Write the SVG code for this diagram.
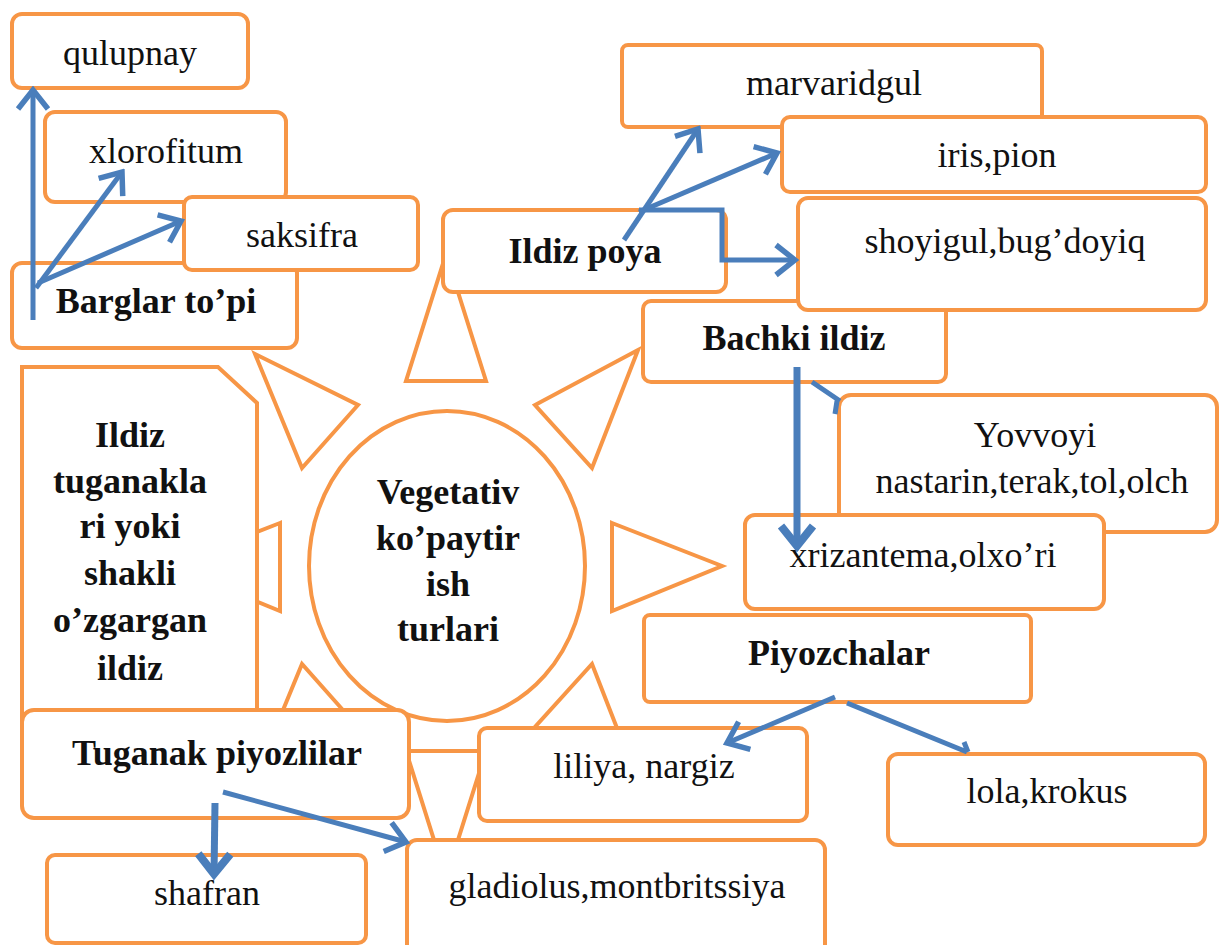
<svg xmlns="http://www.w3.org/2000/svg" width="1219" height="945" viewBox="0 0 1219 945">
<defs>
<style>
.box{fill:#fff;stroke:#F79646;stroke-width:4}
.ray{fill:#fff;stroke:#F79646;stroke-width:4;stroke-linejoin:miter}
.t{font-family:"Liberation Serif","Times New Roman",serif;font-size:36px;fill:#111;text-anchor:middle}
.b{font-weight:bold}
.c{fill:none;stroke:#4A7EBB;stroke-width:5}
.ct{fill:none;stroke:#4A7EBB;stroke-width:7}
</style>
<marker id="ah" viewBox="-26 -20 30 40" markerWidth="30" markerHeight="40" refX="0" refY="0" orient="auto" markerUnits="userSpaceOnUse">
<path d="M-19,-15 L0,0 L-19,15" fill="none" stroke="#4A7EBB" stroke-width="5.5"/>
</marker>
<marker id="aht" viewBox="-28 -22 34 44" markerWidth="34" markerHeight="44" refX="0" refY="0" orient="auto" markerUnits="userSpaceOnUse">
<path d="M-20,-16 L0,0 L-20,16" fill="none" stroke="#4A7EBB" stroke-width="8"/>
</marker>
</defs>
<rect width="1219" height="945" fill="#fff"/>

<g id="rays">
<polygon class="ray" points="446,254 486,381 406,381"/>
<polygon class="ray" points="255,354 358,405 302,468"/>
<polygon class="ray" points="638,350 535,405 592,468"/>
<polygon class="ray" points="612,523 722,566 612,611"/>
<polygon class="ray" points="280,523 170,566 280,611"/>
<polygon class="ray" points="255,778 358,727 302,664"/>
<polygon class="ray" points="638,782 535,727 592,664"/>
<polygon class="ray" points="406,751 486,751 446,878"/>
</g>

<g id="center">
<ellipse class="box" cx="447" cy="566" rx="138" ry="155"/>
<text class="t b" x="448" y="504">Vegetativ</text>
<text class="t b" x="448" y="550">ko’paytir</text>
<text class="t b" x="448" y="596">ish</text>
<text class="t b" x="448" y="641">turlari</text>
</g>

<g id="qulupnay"><rect class="box" x="12" y="14" width="236" height="74" rx="10"/><text class="t" x="130" y="65">qulupnay</text></g>
<g id="xlorofitum"><rect class="box" x="45" y="112" width="241" height="90" rx="10"/><text class="t" x="166" y="163">xlorofitum</text></g>
<g id="barglar"><rect class="box" x="12" y="263" width="285" height="85" rx="10"/><text class="t b" x="156" y="313">Barglar to’pi</text></g>
<g id="saksifra"><rect class="box" x="184" y="197" width="234" height="73" rx="8"/><text class="t" x="302" y="247">saksifra</text></g>

<g id="marvaridgul"><rect class="box" x="622" y="45" width="420" height="82" rx="6"/><text class="t" x="834" y="95">marvaridgul</text></g>
<g id="iris"><rect class="box" x="782" y="117" width="424" height="75" rx="8"/><text class="t" x="997" y="167">iris,pion</text></g>
<g id="ildizpoya"><rect class="box" x="443" y="210" width="283" height="82" rx="10"/><text class="t b" x="585" y="263">Ildiz poya</text></g>
<g id="bachki"><rect class="box" x="643" y="301" width="303" height="81" rx="8"/><text class="t b" x="794" y="350">Bachki ildiz</text></g>
<g id="shoyigul"><rect class="box" x="798" y="198" width="408" height="112" rx="10"/><text class="t" x="1005" y="253">shoyigul,bug’doyiq</text></g>
<g id="yovvoyi"><rect class="box" x="839" y="395" width="378" height="137" rx="12"/><text class="t" x="1035" y="447">Yovvoyi</text><text class="t" x="1032" y="493">nastarin,terak,tol,olch</text></g>
<g id="xrizantema"><rect class="box" x="745" y="515" width="359" height="94" rx="10"/><text class="t" x="923" y="567">xrizantema,olxo’ri</text></g>
<g id="piyozchalar"><rect class="box" x="644" y="615" width="387" height="87" rx="6"/><text class="t b" x="839" y="665">Piyozchalar</text></g>
<g id="liliya"><rect class="box" x="479" y="728" width="328" height="93" rx="8"/><text class="t" x="644" y="778">liliya, nargiz</text></g>
<g id="lola"><rect class="box" x="888" y="754" width="317" height="91" rx="10"/><text class="t" x="1047" y="803">lola,krokus</text></g>

<g id="ildiztuganak"><path class="box" d="M22,367 L218,367 L257,403 L257,745 L22,745 Z"/>
<text class="t b" x="130" y="447">Ildiz</text>
<text class="t b" x="130" y="493">tuganakla</text>
<text class="t b" x="130" y="538">ri yoki</text>
<text class="t b" x="130" y="585">shakli</text>
<text class="t b" x="130" y="632">o’zgargan</text>
<text class="t b" x="130" y="680">ildiz</text></g>
<g id="tuganak"><rect class="box" x="22" y="710" width="387" height="108" rx="12"/><text class="t b" x="217" y="765">Tuganak piyozlilar</text></g>
<g id="shafran"><rect class="box" x="47" y="855" width="319" height="88" rx="8"/><text class="t" x="207" y="905">shafran</text></g>
<g id="gladiolus"><rect class="box" x="407" y="840" width="418" height="120" rx="10"/><text class="t" x="617" y="898">gladiolus,montbritssiya</text></g>

<g id="connectors">
<line class="c" x1="33" y1="320" x2="33" y2="90" marker-end="url(#ah)"/>
<line class="c" x1="36" y1="288" x2="122" y2="172" marker-end="url(#ah)"/>
<line class="c" x1="38" y1="283" x2="181" y2="221" marker-end="url(#ah)"/>
<line class="c" x1="624" y1="240" x2="698" y2="129" marker-end="url(#ah)"/>
<line class="c" x1="639" y1="212" x2="777" y2="153" marker-end="url(#ah)"/>
<path class="c" d="M639,210 H722 V260 H795" marker-end="url(#ah)"/>
<line class="ct" x1="797" y1="367" x2="797" y2="546" marker-end="url(#aht)"/>
<path class="c" d="M812,382 L840,401 M837,401 L835,414"/>
<line class="c" x1="835" y1="697" x2="727" y2="743" marker-end="url(#ah)"/>
<path class="c" d="M847,703 L967,752 M964,742 L968,752"/>
<line class="ct" x1="215" y1="803" x2="214" y2="874" marker-end="url(#aht)"/>
<line class="c" x1="223" y1="792" x2="406" y2="842" marker-end="url(#ah)"/>
</g>
</svg>
